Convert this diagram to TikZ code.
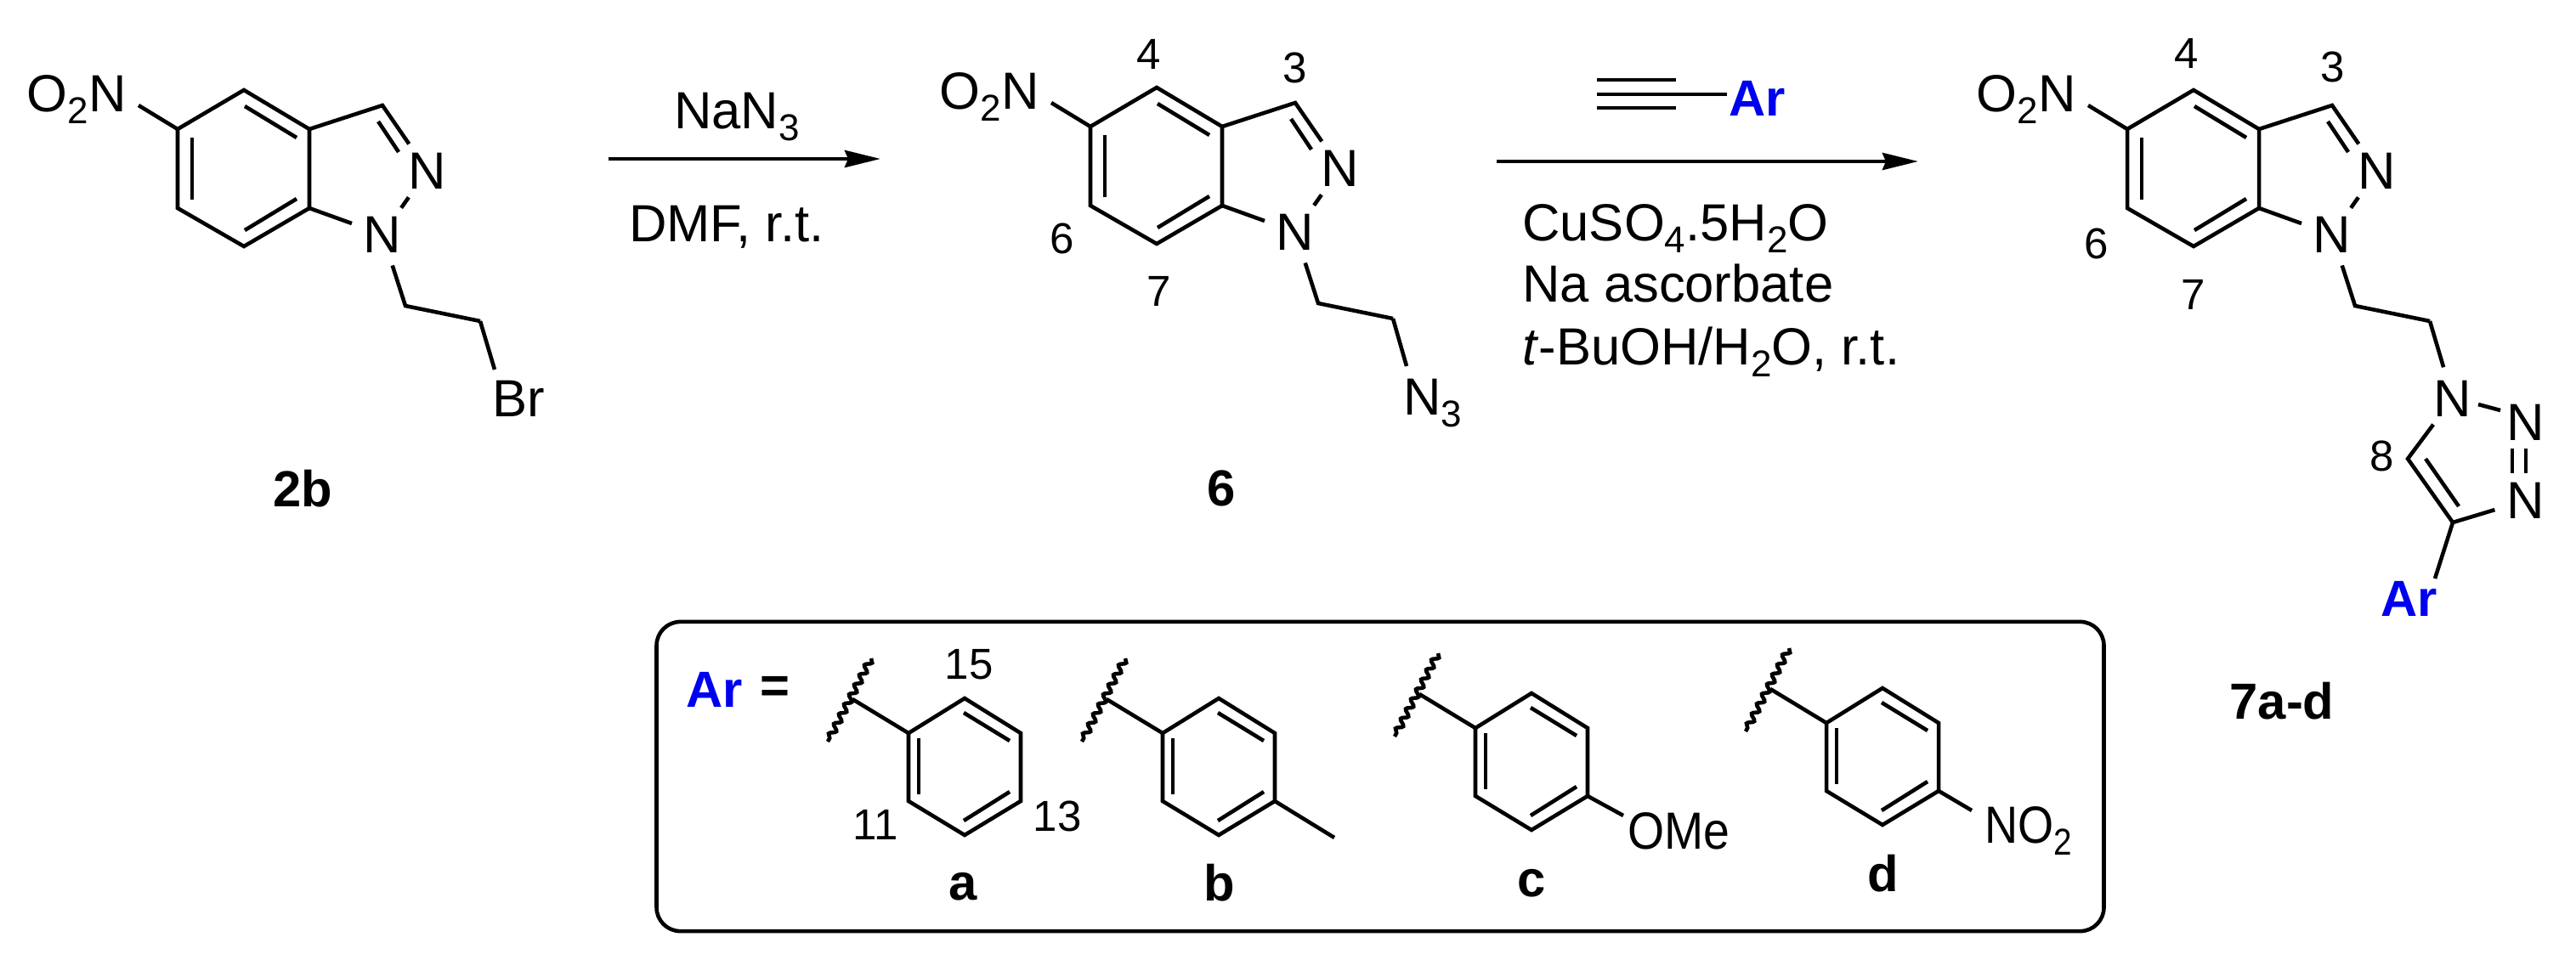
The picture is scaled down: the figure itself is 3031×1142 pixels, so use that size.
\documentclass[tikz,border=0pt]{standalone}
\usepackage{fontspec}
\setmainfont{Liberation Sans}
\usetikzlibrary{arrows.meta, decorations.pathmorphing}

\definecolor{arblue}{RGB}{0,0,240}
\newcommand{\chemsub}[1]{\raisebox{-0.14cm}{\fontsize{12.5}{14}\selectfont #1}}

\tikzset{
    atom/.style = {circle, inner sep = 0pt, minimum size = 0.72cm},
    plain/.style = {inner sep = 0pt},
    numlabel/.style = {inner sep = 0pt, font = \fontsize{14.5}{16}\selectfont},
    cmpd/.style = {inner sep = 0pt, font = \fontsize{17}{20}\selectfont\bfseries},
    wavebond/.style = {decorate, decoration = {snake, segment length = 0.13cm, amplitude = 0.035cm}},
    rxn/.style = {->, >={Stealth[length = 0.42cm, width = 0.2cm, inset = 0.04cm]}}
}

% indazole with nitro group and the ethyl chain
\newcommand{\indazole}[3]{
    \begin{scope}[shift = {(#2,#3)}]
    \coordinate (#1c5) at (0,0);
    \coordinate (#1c4) at (78,-46);
    \coordinate (#1c3a) at (155,0);
    \coordinate (#1c7a) at (155,93);
    \coordinate (#1c7) at (78,138);
    \coordinate (#1c6) at (0,93);
    \coordinate (#1c3) at (241,-28);
    \coordinate (#1ca) at (268,208);
    \coordinate (#1cb) at (356,226);
    \coordinate (#1no) at (-46,-28);
    \node[atom] (#1n2) at (294,49) {N};
    \node[atom] (#1n1) at (241,124) {N};
    \node[plain, anchor = base east] (#1nitro) at (-58,-21) {O\chemsub{2}N};
    \draw (#1c5) -- (#1c4) -- (#1c3a) -- (#1c7a) -- (#1c7) -- (#1c6) -- cycle;
    \draw (#1c3a) -- (#1c3) -- (#1n2);
    \draw (#1c7a) -- (#1n1);
    \draw (#1n2) -- (#1n1);
    \draw (#1n1) -- (#1ca) -- (#1cb);
    \draw (#1c5) -- (#1no);
    \coordinate (#1i1) at (79,-27);
    \coordinate (#1i2) at (140,10);
    \coordinate (#1i3) at (17,10);
    \coordinate (#1i4) at (17,83);
    \coordinate (#1i5) at (79,119);
    \coordinate (#1i6) at (140,82);
    \coordinate (#1i7) at (236,-9);
    \coordinate (#1i8) at (260,27);
    \draw (#1i1) -- (#1i2);
    \draw (#1i3) -- (#1i4);
    \draw (#1i5) -- (#1i6);
    \draw (#1i7) -- (#1i8);
    \end{scope}
}

% benzene ring with the wavy cut, placed by its upper left corner
\newcommand{\arylring}[3]{
    \begin{scope}[shift = {(#2,#3)}]
    \coordinate (#1ul) at (0,0);
    \coordinate (#1t) at (66,-41);
    \coordinate (#1ur) at (132,0);
    \coordinate (#1lr) at (132,80);
    \coordinate (#1b) at (66,120);
    \coordinate (#1ll) at (0,80);
    \coordinate (#1p) at (-66,-40);
    \coordinate (#1w1) at (-44,-88);
    \coordinate (#1w2) at (-95,10);
    \draw (#1ul) -- (#1t) -- (#1ur) -- (#1lr) -- (#1b) -- (#1ll) -- cycle;
    \draw (#1ul) -- (#1p);
    \draw[wavebond] (#1w1) -- (#1w2);
    \coordinate (#1i1) at (12,6);
    \coordinate (#1i2) at (12,72);
    \coordinate (#1i3) at (65,-24);
    \coordinate (#1i4) at (119,9);
    \coordinate (#1i5) at (65,103);
    \coordinate (#1i6) at (119,69);
    \draw (#1i1) -- (#1i2);
    \draw (#1i3) -- (#1i4);
    \draw (#1i5) -- (#1i6);
    \end{scope}
}

\begin{document}
\begin{tikzpicture}[x = 0.01cm, y = -0.01cm, line width = 1.3pt, font = \fontsize{17.5}{20}\selectfont]
    \useasboundingbox (0,0) rectangle (3031,1142);

    % compound 2b
    \indazole{p}{209}{152}
    \coordinate (pend) at (582,435);
    \draw (pcb) -- (pend);
    \node[plain, anchor = base west] (pbr) at (577,490) {Br};
    \node[cmpd] (lab2b) at (356,575) {2b};

    % first arrow
    \coordinate (ar1a) at (716,187);
    \coordinate (ar1b) at (1036,187);
    \draw[rxn] (ar1a) -- (ar1b);
    \node[plain, anchor = base west] (nan3) at (791,151) {NaN\chemsub{3}};
    \node[plain, anchor = base west] (dmf) at (738,284) {DMF, r.t.};

    % compound 6
    \indazole{q}{1283}{149}
    \coordinate (qend) at (1655,431);
    \draw (qcb) -- (qend);
    \node[plain, anchor = base west] (qn3) at (1649,488) {N\chemsub{3}};
    \node[numlabel] (q4) at (1352,64) {4};
    \node[numlabel] (q3) at (1524,80) {3};
    \node[numlabel] (q6) at (1250,281) {6};
    \node[numlabel] (q7) at (1364,343) {7};
    \node[cmpd] (lab6) at (1437,575) {6};

    % second arrow with alkyne
    \coordinate (ar2a) at (1761,190);
    \coordinate (ar2b) at (2257,190);
    \draw[rxn] (ar2a) -- (ar2b);
    \coordinate (yn1a) at (1879,94);
    \coordinate (yn1b) at (1972,94);
    \coordinate (yn2a) at (1879,111);
    \coordinate (yn2b) at (2032,111);
    \coordinate (yn3a) at (1879,127);
    \coordinate (yn3b) at (1972,127);
    \draw (yn1a) -- (yn1b);
    \draw (yn2a) -- (yn2b);
    \draw (yn3a) -- (yn3b);
    \node[cmpd, text = arblue] (yar) at (2068,116) {Ar};
    \node[plain, anchor = base west] (cond1) at (1789,283) {CuSO\chemsub{4}.5H\chemsub{2}O};
    \node[plain, anchor = base west] (cond2) at (1789,355) {Na ascorbate};
    \node[plain, anchor = base west] (cond3) at (1789,429) {\textit{t}-BuOH/H\chemsub{2}O, r.t.};

    % compound 7
    \indazole{r}{2503}{152}
    \node[atom] (tn1) at (2886,469) {N};
    \node[atom] (tn2) at (2972,497) {N};
    \node[atom] (tn3) at (2972,589) {N};
    \coordinate (tc4) at (2886,615);
    \coordinate (tc5) at (2833,540);
    \coordinate (tar) at (2865,681);
    \coordinate (tb1) at (2916,476);
    \coordinate (tb2) at (2942,483);
    \draw (rcb) -- (tn1);
    \draw (tb1) -- (tb2);
    \draw (tn1) -- (tc5) -- (tc4) -- (tn3);
    \draw (tc4) -- (tar);
    \coordinate (ti1) at (2854,540);
    \coordinate (ti2) at (2893,596);
    \draw (ti1) -- (ti2);
    \coordinate (td1) at (2956,528);
    \coordinate (td2) at (2956,557);
    \coordinate (td3) at (2972,528);
    \coordinate (td4) at (2972,557);
    \draw (td1) -- (td2);
    \draw (td3) -- (td4);
    \node[cmpd, text = arblue] (rar) at (2835,705) {Ar};
    \node[numlabel] (r4) at (2573,63) {4};
    \node[numlabel] (r3) at (2745,79) {3};
    \node[numlabel] (r6) at (2467,287) {6};
    \node[numlabel] (r7) at (2581,347) {7};
    \node[numlabel] (r8) at (2803,537) {8};
    \node[cmpd] (lab7) at (2685,825) {7a-d};

    % box with the aryl groups
    \node[draw, rounded corners = 0.28cm, minimum width = 17.02cm, minimum height = 3.64cm] (arbox) at (1624,914) {};
    \node[cmpd, text = arblue] (boxar) at (841,812) {Ar};
    \node[plain, font = \fontsize{17}{20}\selectfont\bfseries] (boxeq) at (912,812) {=};

    \arylring{a}{1069}{863}
    \node[numlabel] (a15) at (1140,782) {15};
    \node[numlabel] (a11) at (1030,971) {11};
    \node[numlabel] (a13) at (1244,961) {13};
    \node[cmpd] (laba) at (1133,1044) {a};

    \arylring{b}{1368}{863}
    \coordinate (bme) at (1570,986);
    \draw (blr) -- (bme);
    \node[cmpd] (labb) at (1435,1039) {b};

    \arylring{c}{1736}{857}
    \coordinate (co) at (1910,960);
    \draw (clr) -- (co);
    \node[plain] (come) at (1975,978) {\scalebox{0.9}[1]{OMe}};
    \node[cmpd] (labc) at (1802,1040) {c};

    \arylring{d}{2149}{851}
    \coordinate (dn) at (2320,954);
    \draw (dlr) -- (dn);
    \node[plain, anchor = base west] (dno) at (2333,992) {\scalebox{0.88}[1]{NO\chemsub{2}}};
    \node[cmpd] (labd) at (2216,1028) {d};
\end{tikzpicture}
\end{document}
